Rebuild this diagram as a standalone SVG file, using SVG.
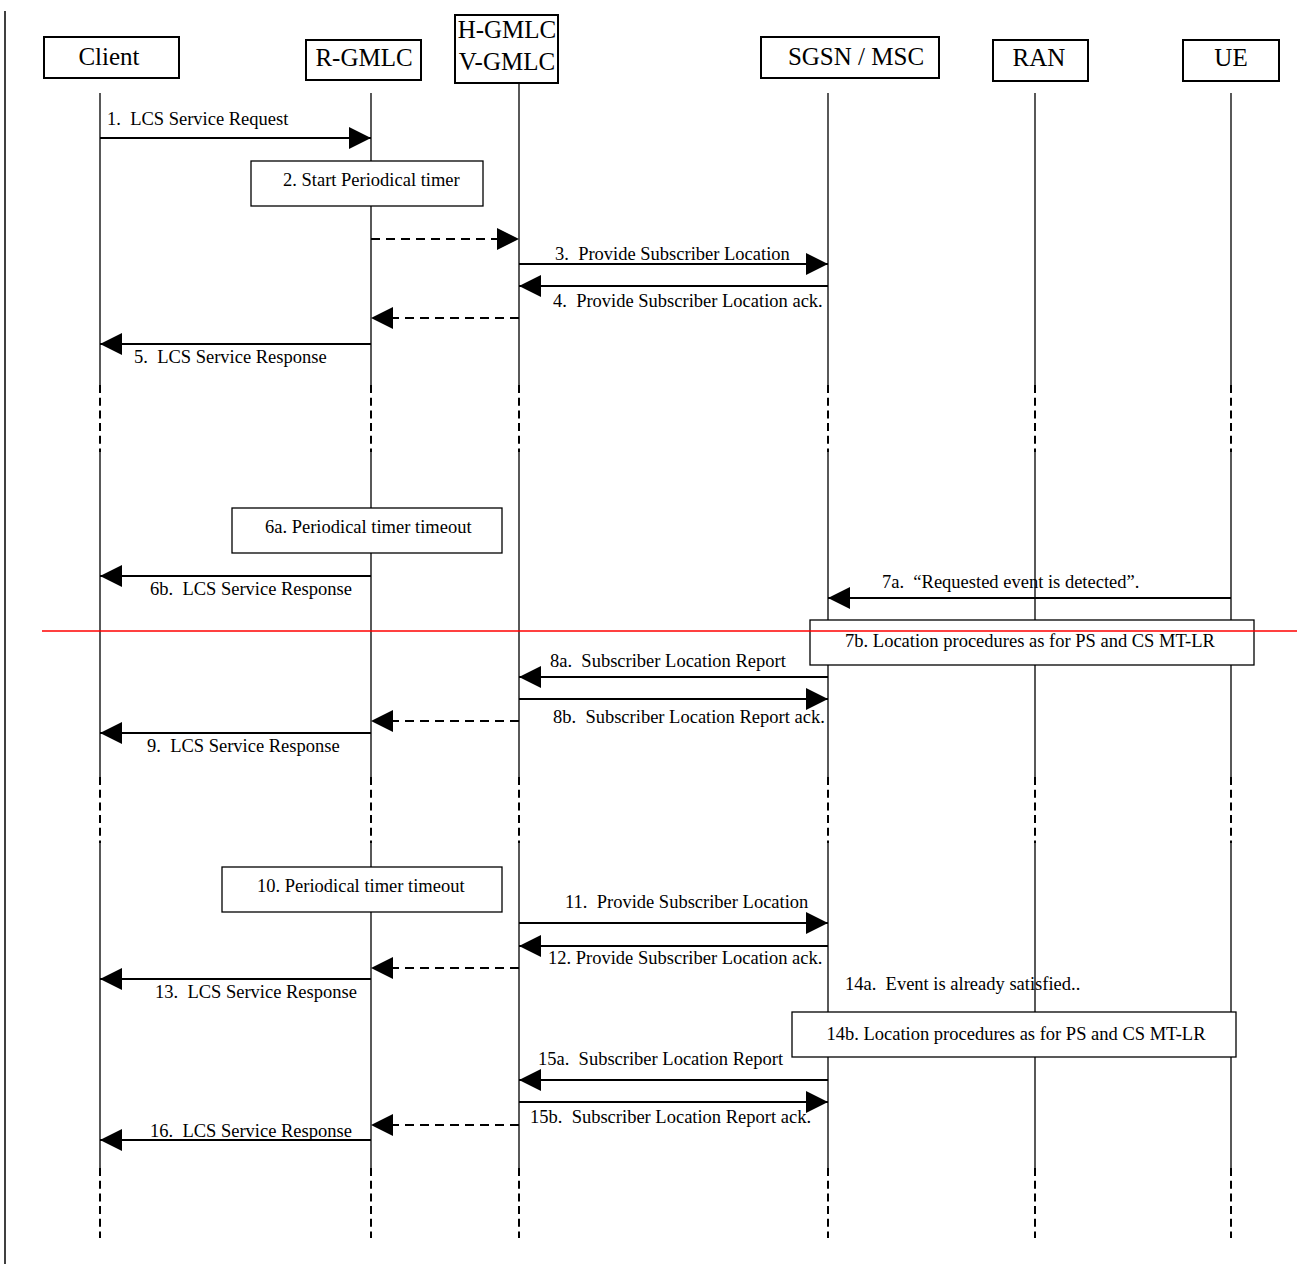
<svg xmlns="http://www.w3.org/2000/svg" width="1297" height="1274" viewBox="0 0 1297 1274">
<style>
.hbox{fill:#fff;stroke:#000;stroke-width:2}
.nbox{fill:#fff;stroke:#000;stroke-width:1.3}
.htxt{font-family:"Liberation Serif","Times New Roman",serif;font-size:25px;fill:#000;text-anchor:middle}
.t{font-family:"Liberation Serif","Times New Roman",serif;font-size:18.5px;fill:#000;white-space:pre}
.tc{text-anchor:middle}
.life{stroke:#000;stroke-width:1.3;fill:none}
.lifed{stroke:#000;stroke-width:2;stroke-dasharray:8 4.7;fill:none}
.msg{stroke:#000;stroke-width:2;fill:none;marker-end:url(#ah)}
.dmsg{stroke:#000;stroke-width:2;stroke-dasharray:9 6;fill:none;marker-end:url(#ah)}
</style>
<defs>
<marker id="ah" markerUnits="userSpaceOnUse" markerWidth="22" markerHeight="22" refX="22" refY="11" orient="auto" viewBox="0 0 22 22">
<path d="M0,0 L22,11 L0,22 Z" fill="#000"/>
</marker>
</defs>
<rect width="1297" height="1274" fill="#fff"/>
<line x1="5" y1="11" x2="5" y2="1264" stroke="#000" stroke-width="1.5"/>

<g id="lifelines">
<path class="life" d="M100,93V385M100,452V777M100,843V1168 M371,93V385M371,452V777M371,843V1168 M519,83V385M519,452V777M519,843V1168 M828,93V385M828,452V777M828,843V1168 M1035,93V385M1035,452V777M1035,843V1168 M1231,93V385M1231,452V777M1231,843V1168"/>
<path class="lifed" d="M100,385V452M100,777V843M100,1168V1238 M371,385V452M371,777V843M371,1168V1238 M519,385V452M519,777V843M519,1168V1238 M828,385V452M828,777V843M828,1168V1238 M1035,385V452M1035,777V843M1035,1168V1238 M1231,385V452M1231,777V843M1231,1168V1238"/>
</g>

<g id="client"><rect class="hbox" x="44" y="37" width="135" height="41"/><text class="htxt" x="109" y="65">Client</text></g>
<g id="r-gmlc"><rect class="hbox" x="306" y="40" width="115" height="40"/><text class="htxt" x="364" y="66">R-GMLC</text></g>
<g id="hv-gmlc"><rect class="hbox" x="455" y="15" width="103" height="68"/><text class="htxt" x="507" y="38">H-GMLC</text><text class="htxt" x="507" y="70">V-GMLC</text></g>
<g id="sgsn-msc"><rect class="hbox" x="761" y="37" width="178" height="41"/><text class="htxt" x="856" y="65">SGSN / MSC</text></g>
<g id="ran"><rect class="hbox" x="993" y="40" width="95" height="41"/><text class="htxt" x="1039" y="66">RAN</text></g>
<g id="ue"><rect class="hbox" x="1183" y="40" width="96" height="41"/><text class="htxt" x="1231" y="66">UE</text></g>

<g id="notes">
<g id="n2"><rect class="nbox" x="251" y="161" width="232" height="45"/><text class="t" x="283" y="186">2. Start Periodical timer</text></g>
<g id="n6a"><rect class="nbox" x="232" y="508" width="270" height="45"/><text class="t" x="265" y="533">6a. Periodical timer timeout</text></g>
<g id="n7b"><rect class="nbox" x="810" y="620" width="444" height="45"/><text class="t tc" x="1030" y="647">7b. Location procedures as for PS and CS MT-LR</text></g>
<g id="n10"><rect class="nbox" x="222" y="867" width="280" height="45"/><text class="t" x="257" y="892">10. Periodical timer timeout</text></g>
<g id="n14b"><rect class="nbox" x="792" y="1012" width="444" height="45"/><text class="t tc" x="1016" y="1040">14b. Location procedures as for PS and CS MT-LR</text></g>
</g>

<g id="connectors">
<line class="msg" x1="100" y1="138" x2="371" y2="138"/>
<line class="dmsg" x1="371" y1="239" x2="519" y2="239"/>
<line class="msg" x1="519" y1="264" x2="828" y2="264"/>
<line class="msg" x1="828" y1="286" x2="519" y2="286"/>
<line class="dmsg" x1="519" y1="318" x2="371" y2="318"/>
<line class="msg" x1="371" y1="344" x2="100" y2="344"/>
<line class="msg" x1="371" y1="576" x2="100" y2="576"/>
<line class="msg" x1="1231" y1="598" x2="828" y2="598"/>
<line class="msg" x1="828" y1="677" x2="519" y2="677"/>
<line class="msg" x1="519" y1="699" x2="828" y2="699"/>
<line class="dmsg" x1="519" y1="721" x2="371" y2="721"/>
<line class="msg" x1="371" y1="733" x2="100" y2="733"/>
<line class="msg" x1="519" y1="923" x2="828" y2="923"/>
<line class="msg" x1="828" y1="946" x2="519" y2="946"/>
<line class="dmsg" x1="519" y1="968" x2="371" y2="968"/>
<line class="msg" x1="371" y1="979" x2="100" y2="979"/>
<line class="msg" x1="828" y1="1080" x2="519" y2="1080"/>
<line class="msg" x1="519" y1="1102" x2="828" y2="1102"/>
<line class="dmsg" x1="519" y1="1125" x2="371" y2="1125"/>
<line class="msg" x1="371" y1="1140" x2="100" y2="1140"/>
</g>

<g id="labels">
<text class="t" x="107" y="125">1.  LCS Service Request</text>
<text class="t" x="555" y="260">3.  Provide Subscriber Location</text>
<text class="t" x="553" y="307">4.  Provide Subscriber Location ack.</text>
<text class="t" x="134" y="363">5.  LCS Service Response</text>
<text class="t" x="150" y="595">6b.  LCS Service Response</text>
<text class="t" x="882" y="588">7a.  “Requested event is detected”.</text>
<text class="t" x="550" y="667">8a.  Subscriber Location Report</text>
<text class="t" x="553" y="723">8b.  Subscriber Location Report ack.</text>
<text class="t" x="147" y="752">9.  LCS Service Response</text>
<text class="t" x="565" y="908">11.  Provide Subscriber Location</text>
<text class="t" x="548" y="964">12. Provide Subscriber Location ack.</text>
<text class="t" x="155" y="998">13.  LCS Service Response</text>
<text class="t" x="845" y="990">14a.  Event is already satisfied..</text>
<text class="t" x="538" y="1065">15a.  Subscriber Location Report</text>
<text class="t" x="530" y="1123">15b.  Subscriber Location Report ack.</text>
<text class="t" x="150" y="1137">16.  LCS Service Response</text>
</g>

<line id="separator" x1="42" y1="631" x2="1297" y2="631" stroke="#f00" stroke-width="1.5"/>
</svg>
